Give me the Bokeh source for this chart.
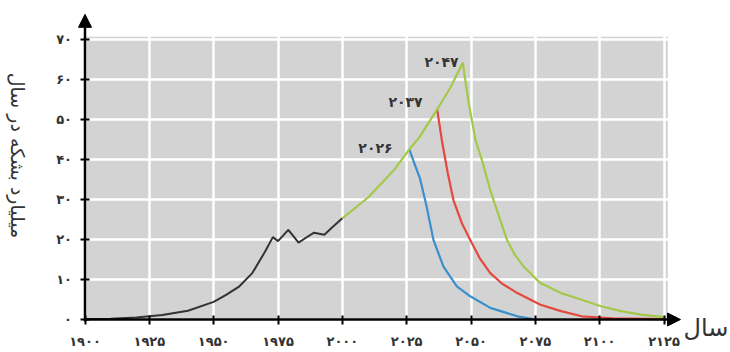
import math
from bokeh.plotting import figure
from bokeh.models import Range1d, BoxAnnotation, Arrow, NormalHead, FixedTicker, Label, ColumnDataSource
from bokeh.core.properties import value
from bokeh.embed import file_html
from bokeh.resources import INLINE

# ---- data ----
hist_years = [1900, 1910, 1920, 1930, 1940, 1950, 1955, 1960, 1965, 1970, 1973, 1975, 1979, 1983, 1986, 1989, 1993, 1996, 2000]
hist_values = [0.1, 0.2, 0.5, 1.1, 2.2, 4.4, 6.2, 8.3, 11.6, 17.0, 20.6, 19.6, 22.4, 19.2, 20.5, 21.7, 21.2, 23.0, 25.3]

green_years = [2000, 2010, 2020, 2026, 2030, 2037, 2042, 2046.8, 2049, 2051.7, 2054.3, 2057.5, 2061.4, 2064, 2067, 2070.5, 2077, 2085, 2092.7, 2100.5, 2108.3, 2116, 2125]
green_values = [25.3, 30.5, 37.3, 42.5, 45.6, 52.7, 58.0, 64.2, 54.5, 45.0, 39.7, 32.3, 24.8, 19.9, 16.2, 13.2, 9.1, 6.6, 5.0, 3.3, 2.1, 1.2, 0.6]

red_years = [2036.8, 2038.7, 2041, 2043.2, 2046.5, 2049.7, 2053.5, 2057.5, 2062, 2068, 2077, 2085, 2093, 2105, 2125]
red_values = [52.7, 44.7, 36.5, 29.8, 24.0, 19.9, 15.2, 11.6, 9.0, 6.6, 3.7, 2.1, 0.8, 0.3, 0.1]

blue_years = [2026, 2028, 2030.2, 2032.8, 2035.4, 2039.3, 2044.5, 2049.7, 2057.5, 2068, 2074]
blue_values = [42.6, 39.0, 35.2, 28.1, 19.9, 13.2, 8.3, 5.8, 2.9, 0.8, 0.1]

# peak annotations (text right edge, vertical centre)
peak_label_years = [2019.5, 2031.2, 2045.2]
peak_label_values = [43.0, 54.3, 64.3]
peak_labels = ["۲۰۲۶", "۲۰۳۷", "۲۰۴۷"]

x_ticks = [1900, 1925, 1950, 1975, 2000, 2025, 2050, 2075, 2100, 2125]
x_tick_labels = ["۱۹۰۰", "۱۹۲۵", "۱۹۵۰", "۱۹۷۵", "۲۰۰۰", "۲۰۲۵", "۲۰۵۰", "۲۰۷۵", "۲۱۰۰", "۲۱۲۵"]
y_ticks = [0, 10, 20, 30, 40, 50, 60, 70]
y_tick_labels = ["۰", "۱۰", "۲۰", "۳۰", "۴۰", "۵۰", "۶۰", "۷۰"]

y_title = "میلیارد بشکه در سال"
x_title = "سال"

FONT = "DejaVu Sans"
TXT = "#333333"

p = figure(width=730, height=352, output_backend="svg", toolbar_location=None,
           x_range=Range1d(1867.16, 2150.84), y_range=Range1d(-8.25, 79.75),
           min_border_left=0, min_border_right=0, min_border_top=0, min_border_bottom=0)
p.outline_line_color = None
p.background_fill_color = "white"
p.border_fill_color = "white"

# gray panel
p.add_layout(BoxAnnotation(left=1900, right=2126.5, bottom=0, top=70.7,
                           fill_color="#d3d3d3", fill_alpha=1.0, line_color=None, level="image"))

# grid
p.xgrid.ticker = FixedTicker(ticks=x_ticks)
p.ygrid.ticker = FixedTicker(ticks=y_ticks)
for g in (p.xgrid, p.ygrid):
    g.grid_line_color = "white"
    g.grid_line_width = 2.5

# axes (drawn at data locations inside the frame)
p.xaxis.fixed_location = 0
p.yaxis.fixed_location = 1900
for ax, ticks, labels in ((p.xaxis, x_ticks, x_tick_labels), (p.yaxis, y_ticks, y_tick_labels)):
    ax.ticker = FixedTicker(ticks=ticks)
    ax.major_label_overrides = {t: l for t, l in zip(ticks, labels)}
    ax.axis_line_color = None
    ax.major_tick_line_color = "black"
    ax.major_tick_line_width = 2
    ax.major_tick_in = 4
    ax.major_tick_out = 5
    ax.minor_tick_line_color = None
    ax.major_label_text_font = FONT
    ax.major_label_text_font_style = "bold"
    ax.major_label_text_font_size = "13px"
    ax.major_label_text_color = TXT
p.xaxis.major_label_standoff = 9
p.yaxis.major_label_standoff = 8

# lines
p.line(hist_years, hist_values, line_color="#333333", line_width=2)
p.line(blue_years, blue_values, line_color="#3a8fcc", line_width=2.2)
p.line(red_years, red_values, line_color="#e4483f", line_width=2.2)
p.line(green_years, green_values, line_color="#a5c84a", line_width=2.2)

# axis arrows
p.add_layout(Arrow(end=NormalHead(size=13, fill_color="black", line_color="black"),
                   x_start=1900, y_start=0, x_end=2131.4, y_end=0,
                   line_color="black", line_width=2.5))
p.add_layout(Arrow(end=NormalHead(size=13, fill_color="black", line_color="black"),
                   x_start=1900, y_start=-0.5, x_end=1900, y_end=76.3,
                   line_color="black", line_width=2.5))

# peak labels
src = ColumnDataSource(dict(x=peak_label_years, y=peak_label_values, t=peak_labels))
p.text(x="x", y="y", text="t", source=src, text_align="right", text_baseline="middle",
       text_font=value(FONT), text_font_style="bold",
       text_font_size="14px", text_color=TXT)

# axis titles
p.add_layout(Label(x=2132.6, y=-2.0, text=x_title, text_font=FONT, text_font_size="24px",
                   text_baseline="middle", text_align="left", text_color=TXT))
p.add_layout(Label(x=1874.15, y=41, text=y_title, angle=-math.pi / 2,
                   text_font=FONT, text_font_size="19px", text_align="center",
                   text_baseline="middle", text_color=TXT))

open("out.html", "w").write(file_html(p, INLINE))
